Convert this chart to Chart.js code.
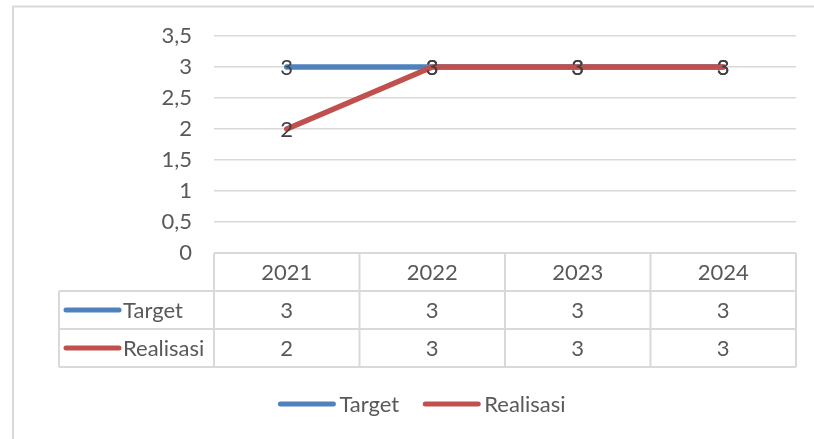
<!DOCTYPE html>
<html>
<head>
<meta charset="utf-8">
<script src="https://cdn.jsdelivr.net/npm/chart.js@4.4.1/dist/chart.umd.min.js"></script>
<style>
  html, body { margin: 0; padding: 0; background: #fff; }
  #wrap { width: 814px; height: 439px; }
</style>
</head>
<body>
<div id="wrap"><canvas id="myChart" width="814" height="439"></canvas></div>
<script>
const years = ['2021', '2022', '2023', '2024'];
const target = [3, 3, 3, 3];
const realisasi = [2, 3, 3, 3];
const seriesNames = ['Target', 'Realisasi'];
const seriesColors = ['#4F81BD', '#C0504D'];

const FONT = 'Lato, "Open Sans", sans-serif';
const FSIZE = 22;
const TXT = '#595959';
const GRID = '#D9D9D9';

function fmt(v) {
  return String(v).replace('.', ',');
}

// frame lines of the chart box (top + left only visible)
const framePlugin = {
  id: 'frame',
  beforeDraw(chart) {
    const c = chart.ctx;
    c.save();
    c.strokeStyle = GRID;
    c.lineWidth = 2;
    c.beginPath();
    c.moveTo(13, 439);
    c.lineTo(13, 6.5);
    c.lineTo(814, 6.5);
    c.stroke();
    c.restore();
  }
};

// value labels on top of every point
const labelPlugin = {
  id: 'pointLabels',
  afterDatasetsDraw(chart) {
    const c = chart.ctx;
    c.save();
    c.font = FSIZE + 'px ' + FONT;
    c.fillStyle = '#404040';
    c.textAlign = 'center';
    c.textBaseline = 'middle';
    chart.data.datasets.forEach((ds, i) => {
      chart.getDatasetMeta(i).data.forEach((pt, j) => {
        c.fillText(fmt(ds.data[j]), pt.x, pt.y + 1);
      });
    });
    c.restore();
  }
};

// data table under the plot + legend at the bottom
const tablePlugin = {
  id: 'dataTable',
  afterDraw(chart) {
    const c = chart.ctx;
    const xs = chart.scales.x;
    const area = chart.chartArea;
    const rowH = 38;
    const top = area.bottom;
    const left = 59;
    const colW = (area.right - area.left) / years.length;
    const nRows = 1 + chart.data.datasets.length;
    const bottom = top + rowH * nRows;

    c.save();
    c.strokeStyle = GRID;
    c.lineWidth = 2;
    c.beginPath();
    // header top
    c.moveTo(area.left, top);
    c.lineTo(area.right, top);
    // row lines
    for (let r = 1; r <= nRows; r++) {
      c.moveTo(left, top + r * rowH);
      c.lineTo(area.right, top + r * rowH);
    }
    // column lines
    for (let k = 0; k <= years.length; k++) {
      const x = area.left + k * colW;
      c.moveTo(x, top);
      c.lineTo(x, bottom);
    }
    c.moveTo(left, top + rowH);
    c.lineTo(left, bottom);
    c.stroke();

    c.font = FSIZE + 'px ' + FONT;
    c.fillStyle = TXT;
    c.textAlign = 'center';
    c.textBaseline = 'middle';
    years.forEach((y, k) => {
      c.fillText(y, xs.getPixelForValue(k), top + rowH / 2 + 1);
    });
    chart.data.datasets.forEach((ds, i) => {
      const cy = top + rowH * (i + 1) + rowH / 2;
      ds.data.forEach((v, k) => {
        c.fillText(fmt(v), xs.getPixelForValue(k), cy + 1);
      });
      // key line
      c.strokeStyle = ds.borderColor;
      c.lineWidth = 5;
      c.lineCap = 'round';
      c.beginPath();
      c.moveTo(66, cy);
      c.lineTo(119, cy);
      c.stroke();
      c.textAlign = 'left';
      c.fillText(ds.label, 123, cy + 1);
      c.textAlign = 'center';
    });

    // legend
    const ly = 404;
    const keyW = 57, gap = 4, sep = 24;
    const widths = chart.data.datasets.map(ds => keyW + gap + c.measureText(ds.label).width);
    const total = widths.reduce((a, b) => a + b, 0) + sep * (widths.length - 1);
    let x = 422 - total / 2;
    chart.data.datasets.forEach((ds, i) => {
      c.strokeStyle = ds.borderColor;
      c.lineWidth = 5;
      c.lineCap = 'round';
      c.beginPath();
      c.moveTo(x + 2, ly);
      c.lineTo(x + keyW - 2, ly);
      c.stroke();
      c.textAlign = 'left';
      c.fillStyle = TXT;
      c.fillText(ds.label, x + keyW + gap, ly + 1);
      x += widths[i] + sep;
    });
    c.restore();
  }
};

const ctx = document.getElementById('myChart');

const c = new Chart(ctx, {
  type: 'line',
  data: {
    labels: years,
    datasets: [
      { label: seriesNames[0], data: target, borderColor: seriesColors[0], backgroundColor: seriesColors[0], order: 2 },
      { label: seriesNames[1], data: realisasi, borderColor: seriesColors[1], backgroundColor: seriesColors[1], order: 1 }
    ]
  },
  options: {
    responsive: false,
    animation: false,
    devicePixelRatio: 1,
    layout: { padding: { left: 0, top: 36, right: 18, bottom: 186 } },
    elements: {
      line: { borderWidth: 5.5, borderCapStyle: 'round', borderJoinStyle: 'round', tension: 0 },
      point: { radius: 0, hoverRadius: 0 }
    },
    plugins: {
      legend: { display: false },
      tooltip: { enabled: false }
    },
    scales: {
      x: {
        display: false,
        offset: true
      },
      y: {
        min: 0,
        max: 3.5,
        afterFit(scale) { scale.width = 214; },
        border: { display: false },
        grid: { color: GRID, lineWidth: 1.5, drawTicks: false },
        ticks: {
          stepSize: 0.5,
          padding: 22,
          color: TXT,
          font: { family: FONT, size: FSIZE },
          callback: v => fmt(v)
        }
      }
    }
  },
  plugins: [framePlugin, labelPlugin, tablePlugin]
});
</script>
</body>
</html>
